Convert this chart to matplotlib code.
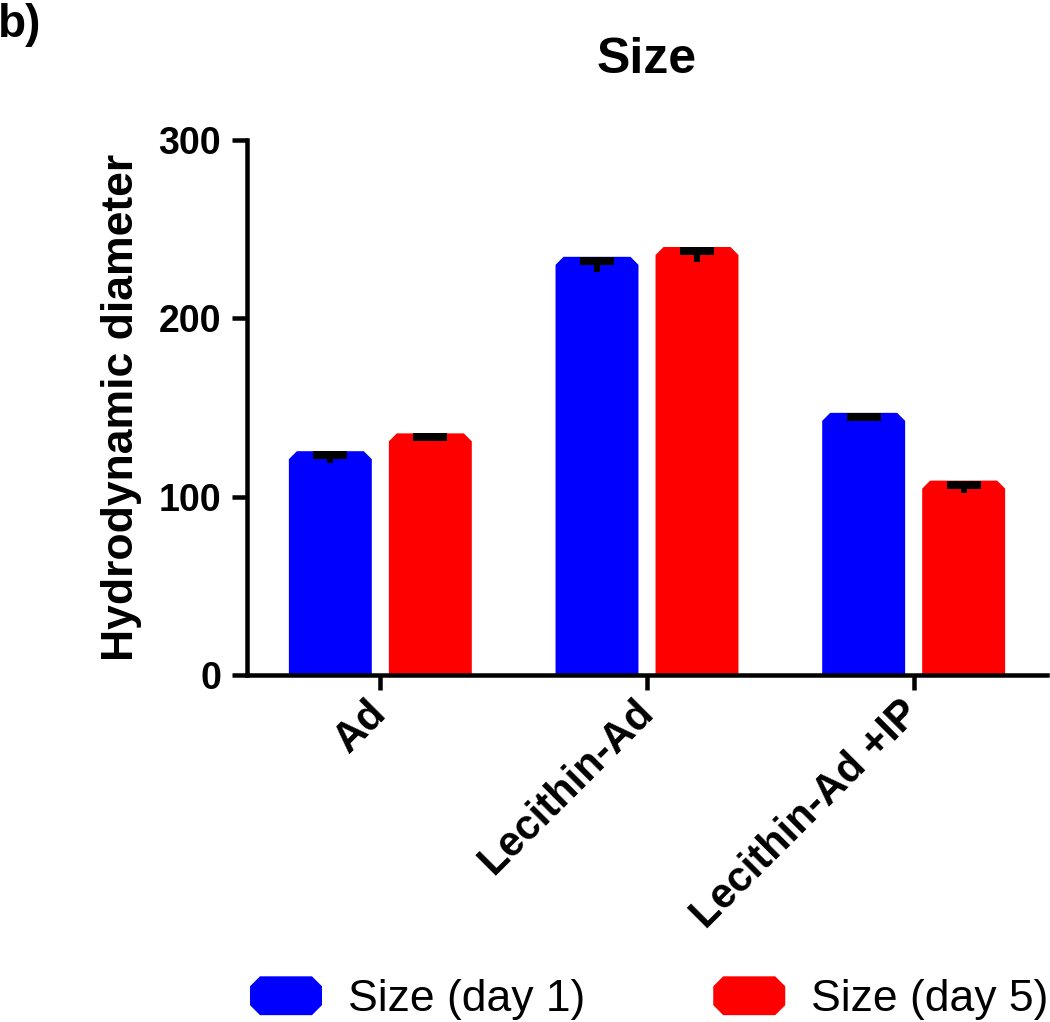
import matplotlib
matplotlib.use("Agg")
import matplotlib.pyplot as plt
import numpy as np
from matplotlib.patches import Polygon, Patch
from matplotlib.legend_handler import HandlerPatch
from matplotlib.transforms import ScaledTranslation

plt.rcParams['font.family'] = ['Liberation Sans', 'DejaVu Sans']

categories = ["Ad", "Lecithin-Ad", "Lecithin-Ad +IP"]
series_names = ["Size (day 1)", "Size (day 5)"]
day1 = [125.5, 234.5, 147.0]
day5 = [135.5, 240.0, 109.0]
day1_err = [6.5, 8.5, 4.5]
day5_err = [4.5, 8.5, 7.0]
colors = ["#0000FF", "#FF0000"]
yticks = [0, 100, 200, 300]

W, H = 1050, 1022
fig = plt.figure(figsize=(W / 100, H / 100), dpi=100)
ax = fig.add_axes([247 / W, (H - 675) / H, 800 / W, 535 / H])

x = np.arange(len(categories))
bw = 0.311
off = 0.1875
ax.set_xlim(-0.5, 2.5)
ax.set_ylim(0, 300)

px = 1.0 / 0.72  # px per point at dpi 100


def chamfer_bars(container, color, cpx=8):
    inv = ax.transData.inverted()
    for r in container:
        x0, w, h = r.get_x(), r.get_width(), r.get_height()
        p0 = ax.transData.transform((x0, h))
        p1 = inv.transform((p0[0] + cpx, p0[1] - cpx))
        cx, cy = p1[0] - x0, h - p1[1]
        poly = Polygon([(x0, 0), (x0, h - cy), (x0 + cx, h), (x0 + w - cx, h),
                        (x0 + w, h - cy), (x0 + w, 0)], closed=True,
                       facecolor=color, edgecolor='none', zorder=2)
        ax.add_patch(poly)
        r.set_visible(False)


b1 = ax.bar(x - off, day1, bw, color=colors[0])
b2 = ax.bar(x + off, day5, bw, color=colors[1])
chamfer_bars(b1, colors[0])
chamfer_bars(b2, colors[1])

# error bars: stem down from bar top, thick cap at top
for xs, vals, errs in [(x - off, day1, day1_err), (x + off, day5, day5_err)]:
    vals = np.array(vals)
    errs = np.array(errs)
    ax.vlines(xs, vals - errs, vals, colors='black', linewidth=6 / px, zorder=3)
    tr = ax.transData + ScaledTranslation(0, -4 / 100, fig.dpi_scale_trans)
    ax.plot(xs, vals, linestyle='none', marker='_', markersize=34 / px,
            markeredgewidth=8 / px, color='black', transform=tr, zorder=4)

for s in ['top', 'right']:
    ax.spines[s].set_visible(False)
for s in ['left', 'bottom']:
    ax.spines[s].set_linewidth(4.5 / px)
    ax.spines[s].set_capstyle('projecting')

ax.set_yticks(yticks)
ax.set_yticklabels([str(t) for t in yticks], fontsize=27, fontweight='bold')
ax.set_xticks(x)
ax.set_xticklabels(categories, fontsize=30, fontweight='bold', rotation=45,
                   ha='right', va='center', rotation_mode='anchor')
ax.tick_params(axis='both', length=15 / px, width=4.5 / px, pad=8)
ax.tick_params(axis='x', pad=12)

ax.set_ylabel("Hydrodynamic diameter", fontsize=32, fontweight='bold', labelpad=12)

fig.text(647 / W, 1 - 60 / H, "Size", fontsize=36, fontweight='bold',
         ha='center', va='center')
fig.text(-0.002, 1 - 37 / H, "b)", fontsize=33, fontweight='bold',
         ha='left', va='baseline')


def make_chamfer_patch(legend, orig_handle, xdescent, ydescent, width, height, fontsize):
    c = 10 / px
    x0, y0 = -xdescent, -ydescent
    pts = [(x0 + c, y0), (x0 + width - c, y0), (x0 + width, y0 + c),
           (x0 + width, y0 + height - c), (x0 + width - c, y0 + height),
           (x0 + c, y0 + height), (x0, y0 + height - c), (x0, y0 + c)]
    return Polygon(pts, closed=True)


handles = [Patch(facecolor=c, edgecolor='none') for c in colors]
fs_leg = 32
em = fs_leg * px
leg = fig.legend(handles=handles, labels=series_names, ncol=2, frameon=False,
                 fontsize=fs_leg, loc='lower left',
                 bbox_to_anchor=(250 / W, 2 / H), borderaxespad=0, borderpad=0,
                 handlelength=72 / em, handleheight=43 / em,
                 handletextpad=26 / em, columnspacing=128 / em,
                 handler_map={Patch: HandlerPatch(patch_func=make_chamfer_patch)})

fig.savefig("out.png", dpi=100)
